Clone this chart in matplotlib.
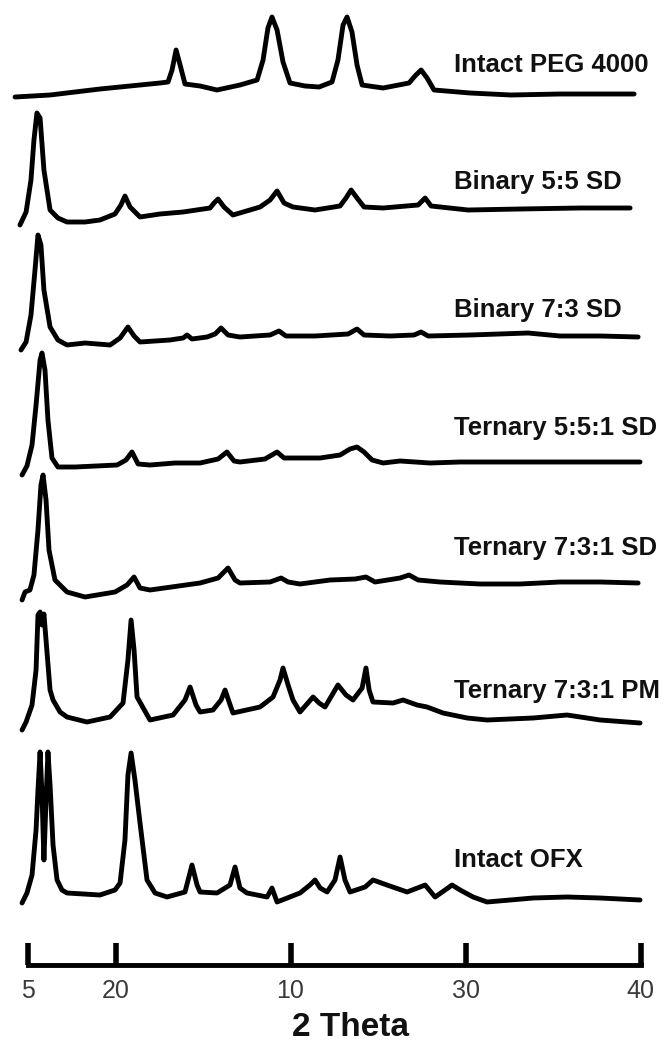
import matplotlib.pyplot as plt

# XRD patterns, 2 theta (deg) vs intensity (a.u.)
names = ["Intact PEG 4000", "Binary 5:5 SD", "Binary 7:3 SD", "Ternary 5:5:1 SD",
         "Ternary 7:3:1 SD", "Ternary 7:3:1 PM", "Intact OFX"]

peg_x = [4.26, 6.26, 9.11, 10.83, 12.54, 13.00, 13.23, 13.46, 13.69, 13.97,
         14.83, 15.80, 17.11, 18.09, 18.43, 18.71, 18.94, 19.23, 19.57, 19.97,
         20.83, 21.63, 22.37, 22.71, 23.00, 23.23, 23.51, 23.80, 24.09, 25.29,
         26.77, 27.11, 27.46, 27.80, 28.20, 30.26, 32.60, 35.40, 37.69, 39.63]
peg_y = [0, 2, 8, 11, 14, 15, 27, 47, 32, 13,
         11, 7, 12, 17, 37, 69, 80, 67, 35, 14,
         11, 10, 15, 37, 72, 80, 65, 32, 12, 9,
         14, 21, 27, 19, 7, 4, 2, 3, 3, 3]

b55_x = [4.54, 4.89, 5.17, 5.34, 5.51, 5.69, 5.91, 6.26, 6.71, 7.23,
         8.26, 9.11, 9.97, 10.31, 10.54, 10.83, 11.40, 12.54, 13.86, 15.40,
         15.63, 15.86, 16.20, 16.71, 18.26, 18.83, 19.23, 19.63, 20.14, 21.40,
         22.83, 23.17, 23.46, 23.80, 24.20, 25.29, 27.29, 27.69, 28.03, 30.14,
         33.11, 36.54, 39.40]
b55_y = [0, 13, 45, 85, 112, 107, 55, 15, 7, 3,
         3, 5, 11, 20, 29, 18, 8, 11, 13, 17,
         22, 26, 18, 10, 18, 25, 34, 22, 18, 15,
         19, 27, 35, 27, 18, 17, 20, 27, 19, 15,
         16, 17, 17]

b73_x = [4.60, 4.89, 5.17, 5.40, 5.57, 5.74, 5.91, 6.26, 6.71, 7.23,
         8.26, 9.69, 10.26, 10.71, 11.06, 11.40, 13.11, 13.86, 14.09, 14.37,
         15.23, 15.69, 16.03, 16.43, 17.11, 18.83, 19.34, 19.74, 21.40, 23.29,
         23.80, 24.20, 25.69, 27.06, 27.46, 27.86, 30.26, 33.57, 35.40, 37.69,
         39.86]
b73_y = [0, 8, 35, 80, 115, 105, 60, 23, 10, 5,
         7, 5, 12, 23, 14, 8, 10, 12, 15, 11,
         13, 16, 22, 15, 13, 15, 19, 14, 14, 16,
         21, 15, 14, 15, 18, 14, 15, 17, 14, 14,
         13]

t551_x = [4.66, 4.94, 5.23, 5.46, 5.69, 5.80, 5.97, 6.14, 6.37, 6.71,
          7.69, 10.09, 10.60, 10.94, 11.29, 11.97, 13.40, 14.83, 15.86, 16.37,
          16.77, 17.11, 18.54, 19.23, 19.63, 19.97, 21.69, 22.83, 23.40, 23.80,
          24.20, 24.66, 25.29, 26.26, 27.97, 29.69, 31.97, 34.83, 37.69, 39.97]
t551_y = [0, 9, 30, 70, 115, 122, 105, 55, 17, 8,
          8, 10, 15, 23, 11, 10, 12, 12, 16, 23,
          14, 13, 16, 23, 17, 17, 17, 20, 26, 28,
          23, 15, 12, 14, 12, 13, 13, 13, 13, 13]

t731sd_x = [4.66, 4.83, 5.11, 5.34, 5.57, 5.74, 5.86, 6.03, 6.20, 6.54,
            7.23, 8.26, 9.97, 10.66, 11.06, 11.40, 11.97, 14.83, 15.86, 16.43,
            16.83, 17.11, 18.83, 19.46, 19.86, 20.54, 22.26, 23.69, 24.31, 24.83,
            26.26, 26.77, 27.29, 28.54, 30.83, 33.11, 35.40, 37.69, 39.86]
t731sd_y = [0, 8, 10, 25, 70, 115, 125, 100, 50, 20,
            8, 3, 8, 15, 23, 12, 10, 17, 22, 32,
            20, 17, 18, 22, 18, 16, 20, 21, 23, 18,
            22, 25, 20, 18, 16, 16, 18, 18, 17]

pm_x = [4.66, 4.89, 5.23, 5.46, 5.57, 5.69, 5.80, 5.91, 6.03, 6.26,
        6.43, 6.83, 7.23, 8.37, 9.69, 10.43, 10.71, 10.89, 11.06, 11.23,
        11.97, 13.29, 13.97, 14.26, 14.60, 14.83, 15.57, 16.03, 16.26, 16.49,
        16.71, 18.26, 19.00, 19.40, 19.57, 19.86, 20.14, 20.54, 21.29, 21.63,
        21.97, 22.71, 23.17, 23.57, 24.09, 24.31, 24.49, 24.71, 25.86, 26.43,
        27.23, 27.80, 28.71, 30.09, 31.23, 33.86, 35.80, 37.69, 39.97]
pm_y = [0, 8, 25, 60, 115, 118, 105, 116, 90, 40,
        30, 18, 13, 8, 13, 27, 70, 110, 80, 33,
        10, 15, 30, 43, 25, 18, 20, 30, 40, 28,
        17, 23, 33, 50, 62, 45, 30, 18, 33, 27,
        23, 45, 35, 30, 42, 62, 40, 28, 27, 30,
        25, 23, 17, 12, 10, 12, 15, 10, 7]

ofx_x = [4.66, 4.94, 5.23, 5.46, 5.57, 5.69, 5.80, 5.91, 6.03, 6.14,
         6.26, 6.43, 6.66, 6.94, 7.23, 9.11, 9.97, 10.26, 10.54, 10.71,
         10.89, 11.11, 11.40, 11.80, 12.26, 12.94, 13.97, 14.37, 14.66, 14.83,
         15.80, 16.54, 16.83, 17.11, 17.51, 18.66, 18.94, 19.23, 20.54, 21.11,
         21.40, 21.69, 22.09, 22.54, 22.83, 23.11, 23.40, 24.26, 24.71, 25.51,
         26.66, 27.40, 27.69, 28.26, 28.83, 29.23, 29.69, 30.43, 31.23, 33.86,
         35.80, 37.69, 39.97]
ofx_y = [0, 10, 28, 73, 113, 151, 108, 43, 103, 151,
         118, 58, 23, 13, 10, 8, 13, 20, 63, 128,
         150, 123, 80, 23, 10, 6, 11, 38, 18, 11,
         10, 18, 36, 15, 10, 6, 15, 1, 10, 18,
         23, 15, 11, 23, 46, 23, 11, 16, 23, 18,
         11, 16, 18, 6, 13, 18, 13, 6, 1, 5,
         6, 5, 3]

offsets = [947, 819, 694, 569, 444, 314, 141]   # vertical stacking of patterns
tick_pos = [5, 10, 20, 30, 40]
tick_lab = ["5", "20", "10", "30", "40"]        # labels as printed in the original

xs = [peg_x, b55_x, b73_x, t551_x, t731sd_x, pm_x, ofx_x]
ys = [peg_y, b55_y, b73_y, t551_y, t731sd_y, pm_y, ofx_y]
label_y = [979, 862, 734, 616, 496, 353, 184]

fig = plt.figure(figsize=(6.67, 10.44), dpi=100)
ax = fig.add_axes([0, 0, 1, 1])
ax.set_xlim(3.4, 41.51)
ax.set_ylim(0, 1044)

for x, y, off, name, ly in zip(xs, ys, offsets, names, label_y):
    ax.plot(x, [v + off for v in y], color='black', lw=3.5,
            solid_joinstyle='round', solid_capstyle='round')
    ax.text(29.35, ly, name, fontsize=18.5, fontweight='bold',
            family='Liberation Sans', va='center', ha='left', color='#111111')

# x axis drawn as a short bar with upward ticks
for s in ['top', 'right', 'left']:
    ax.spines[s].set_visible(False)
ax.spines['bottom'].set_position(('data', 79))
ax.spines['bottom'].set_bounds(5, 40)
ax.spines['bottom'].set_linewidth(3.5)
ax.spines['bottom'].set_capstyle('projecting')
ax.set_yticks([])
ax.set_xticks(tick_pos)
ax.set_xticklabels(tick_lab, family='Liberation Sans', fontsize=18, color='#3a3a3a')
ax.tick_params(axis='x', direction='in', length=16, width=4, pad=10)

ax.text(23.4, 17, "2 Theta", fontsize=24, fontweight='bold',
        family='Liberation Sans', ha='center', va='center', color='#111111')

fig.savefig('out.png', dpi=100)
